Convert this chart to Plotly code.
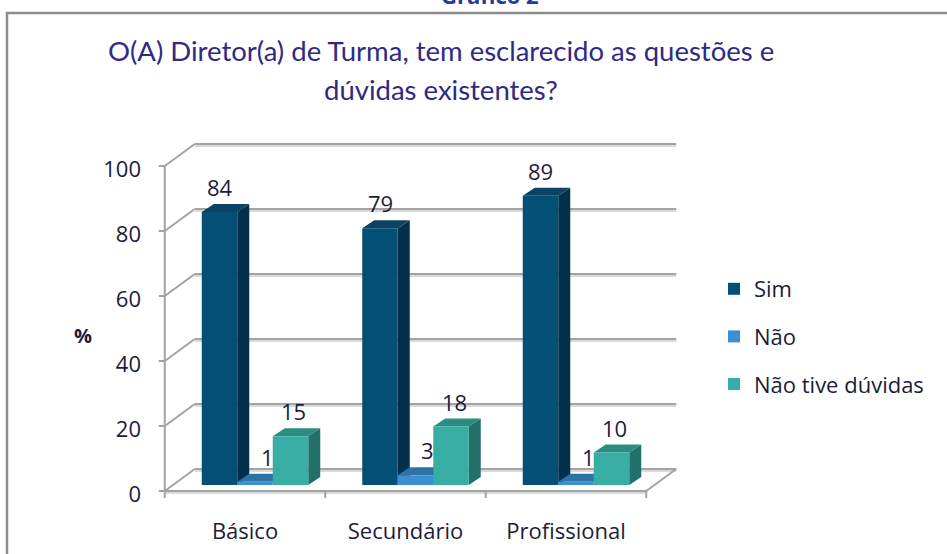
import plotly.graph_objects as go

# ---------------- data ----------------
categories = ["Básico", "Secundário", "Profissional"]
series_names = ["Sim", "Não", "Não tive dúvidas"]
sim = [84, 79, 89]
nao = [1, 3, 1]
nao_tive = [15, 18, 10]
y_ticks = [0, 20, 40, 60, 80, 100]
title_line1 = "O(A) Diretor(a) de Turma, tem esclarecido as questões e"
title_line2 = "dúvidas existentes?"
header = "Gráfico 2"
y_title = "%"

series_values = [sim, nao, nao_tive]

# ---------------- styling / geometry ----------------
W, H = 947, 554
ML, MR, MT, MB = 150, 257, 121, 56
SX = 160.5          # px per category
SY = 3.25           # px per percent
X0_PX, Y0_PX = 255, 485   # pixel position of category 0 center / value 0

PW = W - ML - MR
PH = H - MT - MB
xr = [(ML - X0_PX) / SX, (W - MR - X0_PX) / SX]
yr = [-(H - MB - Y0_PX) / SY, (Y0_PX - MT) / SY]


def dx(p):
    return p / SX


def dy(p):
    return p / SY


def paper_x(px):
    return (px - ML) / PW


def paper_y(py):
    return (H - MB - py) / PH


front = ["#034F76", "#3A8FD2", "#37ADA3"]
side = ["#022F49", "#2A6A9C", "#21716A"]
top = ["#0A4366", "#2E72A6", "#2B8C82"]
label_xshift = [0, 12, 3]
TEXT = "#1C1C3A"
GRID = "#A3A3A3"
FONT = "Open Sans"
FS = 22

BW = 35.5 / SX
offsets = [-1.5 * BW, -0.5 * BW, 0.5 * BW]
DEPX, DEPY = 12, 8           # bar depth (px)
FRONT = (-10, -6)            # front plane offset from bar plane (px)
BACK = (20, 16)              # back wall offset from bar plane (px)

fig = go.Figure()
shapes = []
annotations = []

# back wall gridlines + left diagonals
xl_front = -0.5 + dx(FRONT[0])
xr_front = len(categories) - 0.5 + dx(FRONT[0])
xl_back = -0.5 + dx(BACK[0])
xr_back = len(categories) - 0.5 + dx(BACK[0])
for t in y_ticks:
    yb = t + dy(BACK[1])
    yf = t + dy(FRONT[1])
    shapes.append(dict(type="line", xref="x", yref="y", layer="below",
                       x0=xl_back, x1=xr_back, y0=yb - dy(2), y1=yb - dy(2),
                       line=dict(color="#DADADA", width=2)))
    shapes.append(dict(type="line", xref="x", yref="y", layer="below",
                       x0=xl_back, x1=xr_back, y0=yb, y1=yb,
                       line=dict(color=GRID, width=2)))
    shapes.append(dict(type="line", xref="x", yref="y", layer="below",
                       x0=xl_front, x1=xl_back, y0=yf, y1=yb,
                       line=dict(color=GRID, width=2)))
    shapes.append(dict(type="line", xref="x", yref="y", layer="below",
                       x0=xl_front - dx(6), x1=xl_front, y0=yf, y1=yf,
                       line=dict(color=GRID, width=2)))

# front left axis line
shapes.append(dict(type="line", xref="x", yref="y", layer="below",
                   x0=xl_front, x1=xl_front,
                   y0=y_ticks[0] + dy(FRONT[1]), y1=y_ticks[-1] + dy(FRONT[1]),
                   line=dict(color=GRID, width=2)))
# floor front edge + right diagonal
yf0 = dy(FRONT[1])
shapes.append(dict(type="line", xref="x", yref="y", layer="below",
                   x0=xl_front, x1=xr_front, y0=yf0 - dy(2), y1=yf0 - dy(2),
                   line=dict(color="#DADADA", width=2)))
shapes.append(dict(type="line", xref="x", yref="y", layer="below",
                   x0=xl_front, x1=xr_front, y0=yf0, y1=yf0,
                   line=dict(color=GRID, width=2)))
shapes.append(dict(type="line", xref="x", yref="y", layer="below",
                   x0=xr_front, x1=xr_back, y0=yf0, y1=dy(BACK[1]),
                   line=dict(color=GRID, width=2)))
for k in range(len(categories) + 1):
    xk = k - 0.5 + dx(FRONT[0])
    shapes.append(dict(type="line", xref="x", yref="y", layer="below",
                       x0=xk, x1=xk, y0=yf0, y1=yf0 - dy(8),
                       line=dict(color=GRID, width=2)))

# bars (front faces) + 3D side/top faces + labels
for s, (name, vals) in enumerate(zip(series_names, series_values)):
    xs = list(range(len(categories)))
    fig.add_trace(go.Bar(
        x=xs, y=vals, name=name, width=BW, offset=offsets[s],
        marker=dict(color=front[s], line=dict(width=0)),
        legendgroup=name, hoverinfo="skip"))
    for i, v in enumerate(vals):
        x_left = i + offsets[s]
        x_right = x_left + BW
        ex, ey = dx(DEPX), dy(DEPY)
        shapes.append(dict(
            type="path", xref="x", yref="y", layer="below",
            path=f"M {x_right},0 L {x_right + ex},{ey} L {x_right + ex},{v + ey} L {x_right},{v} Z",
            fillcolor=side[s], line=dict(width=0)))
        shapes.append(dict(
            type="path", xref="x", yref="y", layer="below",
            path=f"M {x_left},{v} L {x_left + ex},{v + ey} L {x_right + ex},{v + ey} L {x_right},{v} Z",
            fillcolor=top[s], line=dict(width=0)))
        annotations.append(dict(
            x=x_left + BW / 2, y=v, xref="x", yref="y", text=str(v),
            showarrow=False, yshift=25, xshift=label_xshift[s],
            font=dict(family=FONT, size=FS, color=TEXT)))

# outer border
shapes.append(dict(type="rect", xref="paper", yref="paper",
                   x0=paper_x(7), x1=paper_x(W + 10), y0=paper_y(13), y1=paper_y(H + 10),
                   line=dict(color="#8C8C8C", width=2.5), fillcolor="rgba(0,0,0,0)"))

# texts
annotations.append(dict(x=paper_x(490), y=paper_y(-5), xref="paper", yref="paper",
                        text=f"<b>{header}</b>", showarrow=False, yanchor="middle",
                        font=dict(family=FONT, size=22, color="#1F3C99")))
annotations.append(dict(x=paper_x(441), y=paper_y(51), xref="paper", yref="paper",
                        text=title_line1, showarrow=False, yanchor="middle",
                        font=dict(family="Lato", size=27.5, color="#2E2A86")))
annotations.append(dict(x=paper_x(441), y=paper_y(89), xref="paper", yref="paper",
                        text=title_line2, showarrow=False, yanchor="middle",
                        font=dict(family="Lato", size=27.5, color="#2E2A86")))
annotations.append(dict(x=paper_x(72), y=paper_y(335), xref="paper", yref="paper",
                        text=f"<b>{y_title}</b>", showarrow=False, yanchor="middle",
                        font=dict(family=FONT, size=20, color=TEXT)))

fig.update_layout(
    width=W, height=H,
    margin=dict(l=ML, r=MR, t=MT, b=MB, pad=0),
    paper_bgcolor="white", plot_bgcolor="white",
    barmode="overlay",
    shapes=shapes, annotations=annotations,
    showlegend=True,
    legend=dict(x=paper_x(714), y=paper_y(268), xanchor="left", yanchor="top",
                font=dict(family=FONT, size=FS, color=TEXT),
                tracegroupgap=16, bgcolor="rgba(0,0,0,0)"),
    xaxis=dict(range=xr, tickvals=list(range(len(categories))), ticktext=categories,
               showgrid=False, zeroline=False, showline=False, ticks="",
               ticklabelshift=-10, ticklabelstandoff=18, automargin=False,
               tickfont=dict(family=FONT, size=FS, color=TEXT), fixedrange=True),
    yaxis=dict(range=yr, tickvals=y_ticks, showgrid=False, zeroline=False,
               showline=False, ticks="", ticklabelshift=9, ticklabelstandoff=8,
               automargin=False,
               tickfont=dict(family=FONT, size=FS, color=TEXT), fixedrange=True),
)

fig.write_html(
    "out.html",
    config={"displayModeBar": False},
    post_script="document.body.style.margin='0';document.body.style.overflow='hidden';",
)
